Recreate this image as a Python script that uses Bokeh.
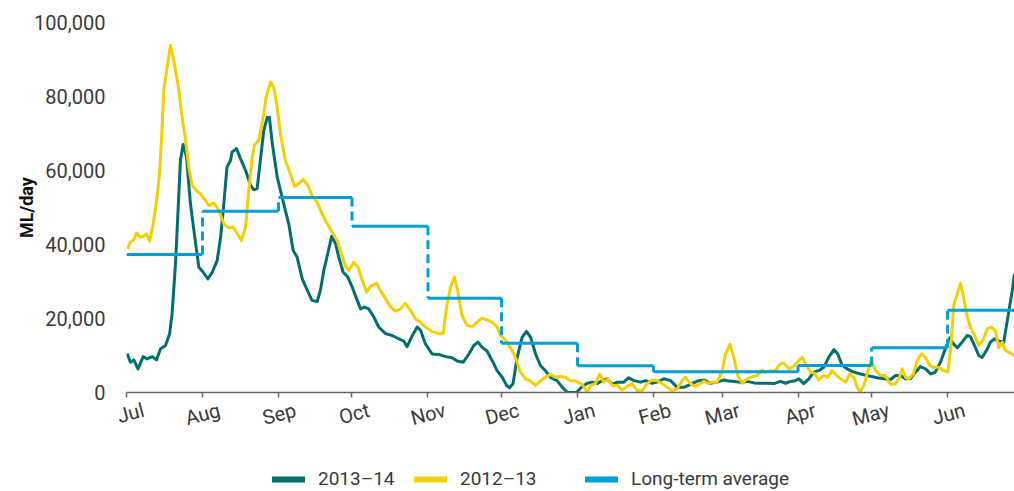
from bokeh.plotting import figure
from bokeh.layouts import column
from bokeh.models import (FixedTicker, NumeralTickFormatter, Range1d, Legend, LegendItem,
                          LinearAxis)
from bokeh.embed import file_html
from bokeh.resources import INLINE

# ---- data ----
months = ["Jul", "Aug", "Sep", "Oct", "Nov", "Dec", "Jan", "Feb", "Mar", "Apr", "May", "Jun"]
month_start = [0, 31, 62, 92, 123, 153, 184, 215, 243, 274, 304, 335]
period_end = 362.3
long_term_avg = [37300, 49000, 52700, 44900, 25500, 13300, 7200, 5600, 5600, 7300, 12100, 22200]

days_1314 = [0.3, 1.6, 3.0, 4.7, 6.8, 8.4, 10.5, 12.2, 13.9, 15.9, 17.6, 18.6, 20.0, 21.3, 22.0, 23.1,
             24.5, 25.4, 26.1, 27.5, 29.5, 31.3, 33.2, 35.0, 37.0, 38.4, 39.7, 41.0, 42.4, 43.1, 44.9,
             46.5, 48.6, 50.6, 51.9, 53.3, 54.6, 56.0, 57.4, 58.3, 59.5, 61.5, 63.5, 64.8, 66.2, 68.0,
             69.6, 71.7, 73.8, 75.7, 77.8, 79.1, 80.5, 82.1, 83.7, 85.3, 86.6, 88.4, 90.3, 92.1, 93.9,
             95.5, 97.1, 98.8, 100.9, 102.9, 105.7, 108.4, 111.1, 113.1, 114.5, 116.6, 118.6, 120.0,
             121.9, 124.7, 127.4, 130.2, 132.8, 134.9, 137.4, 139.7, 141.7, 143.4, 145.1, 147.1, 149.2,
             151.2, 153.3, 155.1, 156.3, 157.7, 159.4, 161.4, 163.2, 164.9, 166.9, 168.9, 170.9, 173.0,
             175.7, 177.8, 179.8, 181.8, 183.6, 185.9, 188.0, 190.0, 192.0, 194.1, 196.1, 198.2, 200.2,
             202.9, 204.9, 207.0, 209.7, 211.8, 214.4, 216.5, 219.2, 222.0, 224.7, 227.4, 230.1, 232.9,
             235.6, 238.2, 241.0, 243.7, 245.1, 247.8, 250.5, 253.2, 256.0, 258.7, 261.4, 264.1, 266.8,
             268.9, 271.0, 272.9, 274.3, 276.3, 278.4, 280.4, 282.4, 284.5, 286.5, 288.6, 290.2, 292.0,
             294.0, 296.7, 299.5, 302.2, 304.0, 306.2, 308.9, 311.7, 313.8, 315.8, 317.8, 319.8, 321.9,
             323.9, 326.0, 328.1, 330.0, 332.1, 334.1, 335.9, 337.3, 339.0, 340.9, 343.0, 344.3, 346.0,
             347.7, 349.1, 350.9, 352.5, 354.1, 355.9, 357.9, 359.6, 361.4, 362.3]
flow_1314 = [10500, 8200, 8800, 6400, 9700, 9100, 9700, 8800, 11800, 12700, 15900, 21300, 34900, 52800,
             62700, 67000, 63600, 56400, 51000, 43800, 33900, 32500, 30700, 32500, 35700, 42000, 51000,
             60900, 62700, 65000, 65900, 63200, 60000, 56000, 54800, 55100, 62700, 70800, 74300, 74400,
             67200, 58200, 52800, 49200, 45600, 38400, 36600, 30700, 27600, 24900, 24600, 27600, 33000,
             37500, 42200, 40200, 36600, 32500, 31200, 28500, 25300, 22600, 23100, 22600, 20400, 17700,
             15900, 15400, 14500, 13900, 12400, 15400, 17700, 16800, 13200, 10400, 10300, 9700, 9400,
             8500, 8200, 10400, 12700, 13600, 12200, 11200, 8600, 5900, 4100, 1900, 1300, 2400, 9500,
             14900, 16500, 14900, 10400, 7300, 5900, 4100, 3200, 1400, 100, 0, 0, 1600, 2500, 2800,
             2400, 3200, 3700, 2200, 2800, 2800, 4000, 3200, 2800, 3200, 2500, 2800, 3700, 3200, 1400,
             1400, 2200, 3100, 3400, 2500, 2800, 3400, 3200, 3000, 2800, 3000, 2600, 2500, 2500, 2400,
             3000, 2500, 3000, 3200, 3700, 2400, 3700, 5500, 5900, 6800, 9500, 11600, 10400, 7300, 6400,
             5500, 5000, 4600, 4300, 4000, 3700, 3500, 4600, 4600, 3700, 3700, 5500, 7000, 6400, 5000,
             5500, 8200, 11800, 14800, 13200, 12100, 13600, 15400, 15100, 12700, 10000, 9500, 11400,
             13600, 14500, 13900, 13600, 20400, 27600, 32100]

days_1213 = [0.3, 1.6, 3.0, 4.1, 5.5, 7.0, 8.1, 9.5, 10.9, 12.5, 13.6, 14.6, 15.2, 16.6, 17.9, 19.3,
             21.3, 22.3, 24.1, 25.4, 26.8, 28.2, 30.2, 32.2, 33.6, 35.6, 37.7, 39.7, 41.7, 43.5, 45.2,
             46.9, 48.6, 49.9, 51.3, 52.2, 53.9, 55.3, 57.0, 58.8, 60.1, 61.5, 62.8, 64.8, 66.9, 68.5,
             70.3, 72.1, 74.0, 75.7, 77.8, 79.8, 81.9, 83.9, 86.0, 87.6, 89.3, 90.7, 92.7, 94.4, 96.2,
             98.0, 99.5, 102.0, 103.6, 105.7, 107.7, 109.7, 111.8, 113.8, 115.9, 117.9, 120.0, 121.9,
             124.7, 127.4, 129.2, 130.6, 132.2, 133.8, 135.1, 136.9, 139.0, 141.1, 143.1, 145.1, 147.1,
             149.2, 151.2, 152.6, 154.6, 156.6, 158.7, 160.7, 162.8, 164.9, 166.9, 168.9, 170.9, 173.0,
             175.0, 177.1, 179.1, 181.1, 183.2, 185.9, 188.0, 189.4, 191.3, 193.1, 194.7, 196.4, 198.2,
             200.2, 202.2, 204.2, 206.3, 208.4, 210.4, 212.5, 214.4, 216.5, 218.6, 220.6, 222.7, 224.7,
             226.7, 228.0, 230.1, 232.2, 234.2, 235.6, 237.1, 239.0, 241.0, 243.1, 244.4, 246.2, 247.8,
             249.4, 251.2, 253.2, 255.3, 257.3, 259.3, 260.7, 262.7, 264.8, 266.8, 268.2, 270.3, 272.2,
             274.3, 275.7, 277.4, 279.1, 280.7, 282.4, 284.5, 286.1, 287.9, 289.7, 291.3, 293.4, 295.1,
             296.7, 298.4, 299.5, 300.9, 302.5, 303.8, 305.6, 307.6, 309.6, 311.7, 313.8, 315.1, 316.5,
             317.8, 319.2, 321.0, 322.6, 324.3, 326.0, 327.8, 329.3, 331.4, 333.4, 335.1, 336.2, 337.6,
             339.0, 340.2, 341.3, 342.7, 344.3, 346.0, 347.7, 349.5, 351.2, 352.7, 354.5, 355.9, 357.3,
             358.6, 360.7, 362.3]
flow_1213 = [38800, 40600, 41300, 43100, 42000, 42200, 42900, 40900, 45600, 52800, 60000, 72600, 81600,
             87900, 93800, 89700, 82100, 76200, 68100, 60900, 56000, 54800, 53700, 51900, 50500, 51200,
             49200, 45600, 44500, 44700, 42900, 41100, 44700, 54600, 63600, 66800, 68100, 72600, 79800,
             83900, 82500, 77000, 70000, 62700, 59100, 55700, 56400, 57600, 56000, 53200, 51400, 48300,
             45600, 43300, 41100, 37500, 34300, 33000, 35200, 33900, 30300, 27100, 28700, 29500, 27600,
             25300, 23200, 22000, 22600, 24100, 22200, 19900, 19000, 17700, 16500, 15900, 15900, 23100,
             28500, 31200, 27600, 20800, 18100, 17800, 19000, 20100, 19600, 19000, 17700, 15400, 14200,
             12200, 9500, 5500, 3700, 3100, 1900, 3100, 4100, 4900, 4100, 4300, 4100, 3200, 3100, 2200,
             100, 1900, 2400, 5000, 2800, 3700, 1900, 1900, 700, 1600, 2400, 500, 500, 2400, 3400, 3200,
             2400, 1400, 500, 1000, 3200, 4100, 2400, 1600, 2400, 3100, 2500, 2800, 2800, 5900, 10400,
             13000, 9500, 4600, 2500, 3700, 4300, 4600, 6100, 5500, 5900, 5900, 7800, 7900, 6400, 7000,
             8600, 9500, 7300, 5500, 5200, 3400, 4600, 4100, 5900, 4600, 3700, 2800, 5000, 4100, 1000,
             400, 1900, 5900, 8600, 6000, 4600, 4600, 2200, 2400, 3700, 6400, 4100, 3700, 5000, 8600,
             10400, 9500, 7300, 6800, 6800, 5900, 5500, 11400, 24000, 26700, 29500, 26700, 21300, 17700,
             15400, 12700, 14100, 17200, 17700, 16800, 12100, 13600, 11400, 10600, 10000]

legend_labels = ["2013\u201314", "2012\u201313", "Long-term average"]

# ---- styles ----
TEAL = "#006f6d"
YELLOW = "#f5cf00"
BLUE = "#009fd9"
FONT = "Roboto"
TXT = "#3a3a3a"
LABEL_SHIFT_DAYS = 7

p = figure(width=1014, height=458, output_backend="svg", toolbar_location=None,
           x_range=Range1d(0, period_end), y_range=Range1d(0, 100000),
           min_border_left=126, min_border_right=0, min_border_top=22, min_border_bottom=66)
p.outline_line_color = None
p.xgrid.visible = False
p.ygrid.visible = False
p.background_fill_color = "white"
p.border_fill_color = "white"

r13 = p.line(days_1314, flow_1314, line_color=TEAL, line_width=3, line_join="round")
r12 = p.line(days_1213, flow_1213, line_color=YELLOW, line_width=3, line_join="round")

# long-term average as monthly steps
ends = month_start[1:] + [period_end]
p.segment(x0=month_start, y0=long_term_avg, x1=ends, y1=long_term_avg,
          line_color=BLUE, line_width=3)
p.segment(x0=month_start[1:], y0=long_term_avg[:-1], x1=month_start[1:], y1=long_term_avg[1:],
          line_color=BLUE, line_width=3, line_dash="9 5")

# x axis: line + ticks
xa = p.xaxis[0]
xa.ticker = FixedTicker(ticks=month_start)
xa.major_label_text_alpha = 0
xa.major_label_text_font_size = "1px"
xa.major_label_standoff = 0
xa.minor_tick_line_color = None
xa.major_tick_in = 0
xa.major_tick_out = 5
xa.axis_line_color = "#666666"
xa.axis_line_width = 1.5
xa.major_tick_line_color = "#666666"
xa.major_tick_line_width = 1.5

# month names (slanted), on a companion axis so they sit just right of each tick
p.extra_x_ranges = {"labels": Range1d(-LABEL_SHIFT_DAYS, period_end - LABEL_SHIFT_DAYS)}
la = LinearAxis(x_range_name="labels", ticker=FixedTicker(ticks=month_start),
                major_label_overrides={d: m for d, m in zip(month_start, months)},
                major_label_orientation=0.26, axis_line_color=None, major_tick_line_color=None,
                minor_tick_line_color=None, major_tick_in=0, major_tick_out=0,
                major_label_standoff=12, major_label_text_font=FONT,
                major_label_text_font_size="20px", major_label_text_color=TXT)
p.add_layout(la, "below")

# y axis
p.yaxis.ticker = FixedTicker(ticks=[0, 20000, 40000, 60000, 80000, 100000])
p.yaxis.formatter = NumeralTickFormatter(format="0,0")
p.yaxis.axis_line_color = None
p.yaxis.major_tick_line_color = None
p.yaxis.minor_tick_line_color = None
p.yaxis.major_label_text_font = FONT
p.yaxis.major_label_text_font_size = "20px"
p.yaxis.major_label_text_color = TXT
p.yaxis.major_label_standoff = 15
p.yaxis.axis_label = "ML/day"
p.yaxis.axis_label_text_font = FONT
p.yaxis.axis_label_text_font_size = "18px"
p.yaxis.axis_label_text_font_style = "bold"
p.yaxis.axis_label_text_color = "#111111"
p.yaxis.axis_label_standoff = -6

# ---- legend strip below the chart (its frame lines up with the chart frame) ----
q = figure(width=1014, height=33, output_backend="svg", toolbar_location=None,
           x_range=Range1d(0, 1014), y_range=Range1d(0, 33), min_border=0,
           x_axis_location=None, y_axis_location=None)
q.outline_line_color = None
q.grid.visible = False
legend_colors = [TEAL, YELLOW, BLUE]
legend_x = [146, 288, 459]
for lab, col, lx in zip(legend_labels, legend_colors, legend_x):
    sample = q.line(x=[-40, -20], y=[-40, -40], line_color=col, line_width=6, line_cap="round")
    lg = Legend(items=[LegendItem(label=lab, renderers=[sample])], location=(lx, 1),
                orientation="horizontal", padding=0, margin=0, border_line_color=None,
                background_fill_alpha=0, glyph_width=33, glyph_height=20, label_standoff=13,
                label_text_font=FONT, label_text_font_size="19px", label_text_color=TXT)
    q.add_layout(lg, "center")

open("out.html", "w").write(file_html(column(p, q, spacing=0), INLINE))
